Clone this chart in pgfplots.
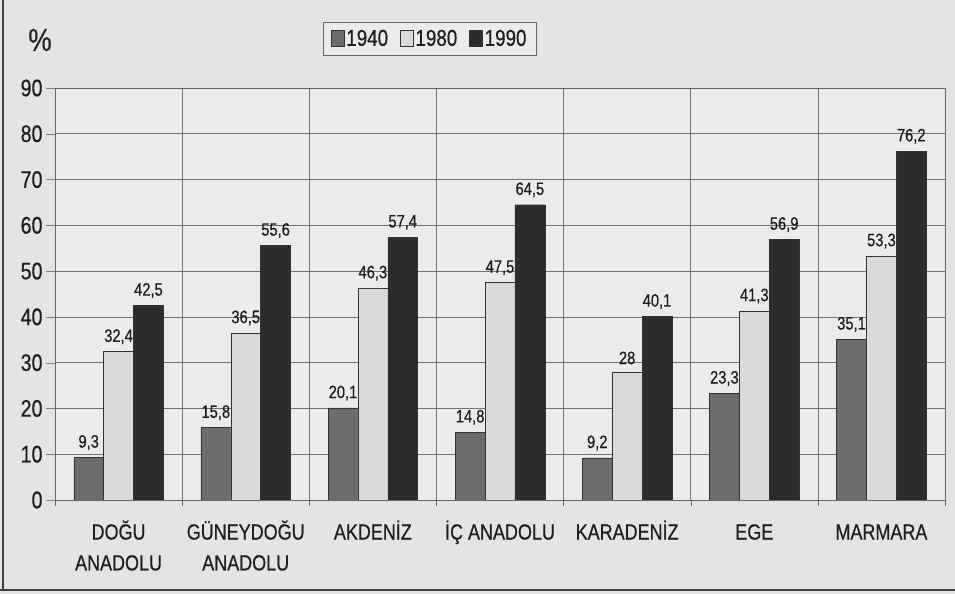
\documentclass[border=0pt]{standalone}
\usepackage{fontspec}
\setmainfont{Liberation Sans}[FakeStretch=0.82, FakeBold=0.6]
\usepackage{pgfplots}
\pgfplotsset{compat=1.18}
\definecolor{paper}{HTML}{E4E4E4}
\definecolor{plotbg}{HTML}{EBEBEB}
\definecolor{cA}{HTML}{6C6C6C}
\definecolor{cB}{HTML}{DADADA}
\definecolor{cC}{HTML}{2C2C2C}
\begin{document}
\begin{tikzpicture}[x=1bp,y=1bp]
\useasboundingbox (0,0) rectangle (955,594);
\fill[paper] (0,0) rectangle (955,594);
\draw[line width=2.5bp, black!75] (3,4) -- (3,594);
\draw[line width=2.5bp, black!75] (0,4) -- (955,4);
\node[font=\fontsize{32}{32}\selectfont, text=black!85] at (40,554) {\%};
\begin{axis}[
  at={(55bp,94bp)}, anchor=south west, scale only axis,
  width=890bp, height=412bp,
  ymin=0, ymax=90, ytick={0,10,...,90},
  xmin=-0.5, xmax=6.5, xtick={0,...,6},
  xticklabels={{DOĞU\\ANADOLU},{GÜNEYDOĞU\\ANADOLU},{AKDENİZ},{İÇ ANADOLU},{KARADENİZ},{EGE},{MARMARA}},
  xticklabel style={align=center, font=\fontsize{22}{31}\selectfont, text=black!88, yshift=-8bp, execute at begin node={\vphantom{ÜĞİ}}},
  yticklabel style={font=\fontsize{24}{24}\selectfont, text=black!88},
  /pgf/number format/assume math mode=true,
  minor xtick={-0.5,0.5,...,6.5},
  xminorgrids, ymajorgrids,
  grid style={black!55, line width=0.6bp},
  minor grid style={black!55, line width=0.6bp},
  major x tick style={draw=none},
  minor x tick style={black!60},
  tick pos=left, tick align=outside,
  major tick length=9bp, minor tick length=6bp,
  axis line style={black!60, line width=0.8bp},
  axis background/.style={fill=plotbg},
  ybar, bar width=0.235,
  nodes near coords,
  every node near coord/.append style={font=\fontsize{18}{18}\selectfont, text=black!88, /pgf/number format/use comma, /pgf/number format/assume math mode=true, yshift=4bp},
  legend style={at={(0.421,1.12)}, anchor=center, draw=black!60, fill=plotbg, legend columns=3, font=\fontsize{23}{23}\selectfont, text=black!88, /tikz/every even column/.append style={column sep=10bp}, inner xsep=8bp, inner ysep=6bp},
  legend image code/.code={\draw[#1] (0bp,-8bp) rectangle (13bp,8bp);},
]
\addplot[fill=cA, draw=black!80, bar shift=-0.235] coordinates {(0,9.3) (1,15.8) (2,20.1) (3,14.8) (4,9.2) (5,23.3) (6,35.1)};
\addplot[fill=cB, draw=black!80, bar shift=0] coordinates {(0,32.4) (1,36.5) (2,46.3) (3,47.5) (4,28) (5,41.3) (6,53.3)};
\addplot[fill=cC, draw=black!80, bar shift=0.235] coordinates {(0,42.5) (1,55.6) (2,57.4) (3,64.5) (4,40.1) (5,56.9) (6,76.2)};
\legend{1940,1980,1990}
\end{axis}
\end{tikzpicture}
\end{document}
